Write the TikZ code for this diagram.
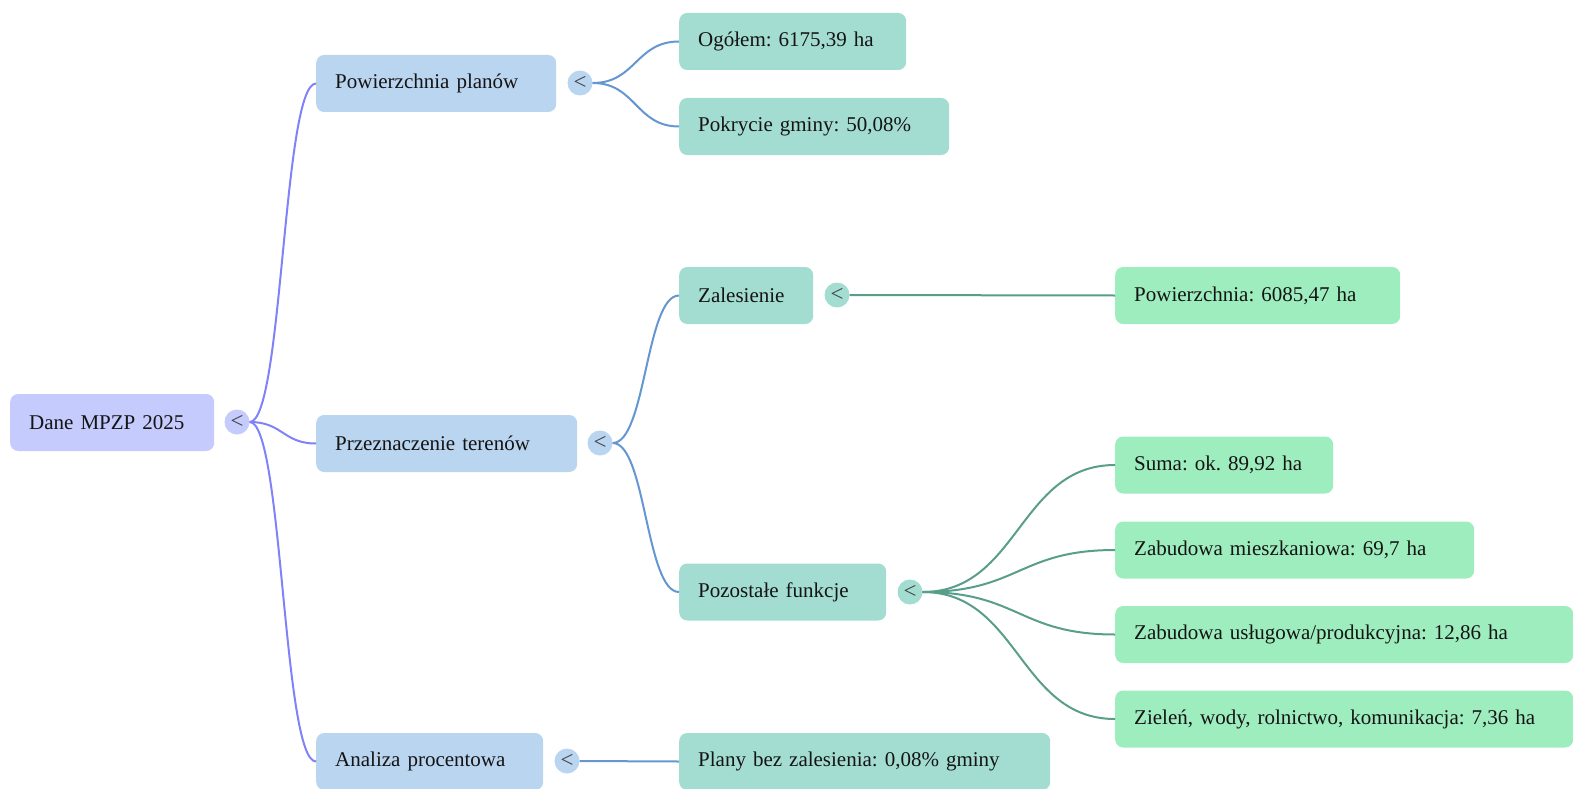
\documentclass[tikz,border=0pt]{standalone}
\usepackage{fontspec}
\usetikzlibrary{calc}
\setmainfont{Liberation Serif}
\definecolor{rootfill}{RGB}{197,203,252}
\definecolor{blfill}{RGB}{186,213,240}
\definecolor{tlfill}{RGB}{163,221,210}
\definecolor{grfill}{RGB}{158,237,190}
\definecolor{rootedge}{RGB}{128,130,250}
\definecolor{bledge}{RGB}{100,150,210}
\definecolor{tledge}{RGB}{88,158,138}
\definecolor{txt}{RGB}{20,20,20}
\frenchspacing
\begin{document}
\begin{tikzpicture}[x=1pt,y=-1pt,
  box/.style={rounded corners=8pt, minimum height=57pt, anchor=west, inner xsep=19pt, inner ysep=0pt,
     align=left, text=txt, font=\fontsize{21}{25}\selectfont\frenchspacing},
  toggle/.style={circle, minimum size=25pt, inner sep=0pt, text=black!75, font=\fontsize{23}{23}\selectfont},
  link/.style={line width=2pt}]
\useasboundingbox (0,0) rectangle (1573,789);
% root
\node[box, fill=rootfill, text width=166pt] (root) at (10,422.5) {Dane MPZP 2025};
\node[toggle, fill=rootfill] (rootc) at (237,422) {<};
% level 1
\node[box, fill=blfill, text width=202pt] (pow) at (316,83.5) {Powierzchnia planów};
\node[box, fill=blfill, text width=223pt] (prz) at (316,443.5) {Przeznaczenie terenów};
\node[box, fill=blfill, text width=189pt] (ana) at (316,761.5) {Analiza procentowa};
\node[toggle, fill=blfill] (powc) at (580,83) {<};
\node[toggle, fill=blfill] (przc) at (600,443) {<};
\node[toggle, fill=blfill] (anac) at (567,761) {<};
% level 2
\node[box, fill=tlfill, text width=189pt] (ogo) at (679,41.5) {Ogółem: 6175,39 ha};
\node[box, fill=tlfill, text width=232pt] (pok) at (679,126.5) {Pokrycie gminy: 50,08\%};
\node[box, fill=tlfill, text width=96pt] (zal) at (679,295.5) {Zalesienie};
\node[box, fill=tlfill, text width=169pt] (poz) at (679,592) {Pozostałe funkcje};
\node[box, fill=tlfill, text width=333pt] (pla) at (679,761.5) {Plany bez zalesienia: 0,08\% gminy};
\node[toggle, fill=tlfill] (zalc) at (837,295) {<};
\node[toggle, fill=tlfill] (pozc) at (910,592) {<};
% level 3
\node[box, fill=grfill, text width=247pt] (pw) at (1115,295.5) {Powierzchnia: 6085,47 ha};
\node[box, fill=grfill, text width=180pt] (sum) at (1115,465) {Suma: ok. 89,92 ha};
\node[box, fill=grfill, text width=321pt] (zm) at (1115,550) {Zabudowa mieszkaniowa: 69,7 ha};
\node[box, fill=grfill, text width=420pt] (zu) at (1115,634.5) {Zabudowa usługowa/produkcyjna: 12,86 ha};
\node[box, fill=grfill, text width=420pt] (zi) at (1115,719) {Zieleń, wody, rolnictwo, komunikacja: 7,36 ha};
% links
\foreach \s/\t/\c in {rootc/pow/rootedge,rootc/prz/rootedge,rootc/ana/rootedge,
    powc/ogo/bledge,powc/pok/bledge,przc/zal/bledge,przc/poz/bledge,anac/pla/bledge,
    zalc/pw/tledge,pozc/sum/tledge,pozc/zm/tledge,pozc/zu/tledge,pozc/zi/tledge}
  \draw[link, draw=\c] let \p1=(\s.east), \p2=(\t.west) in
    (\p1) .. controls ({0.5*\x1+0.5*\x2},\y1) and ({0.5*\x1+0.5*\x2},\y2) .. (\p2);
\end{tikzpicture}
\end{document}
